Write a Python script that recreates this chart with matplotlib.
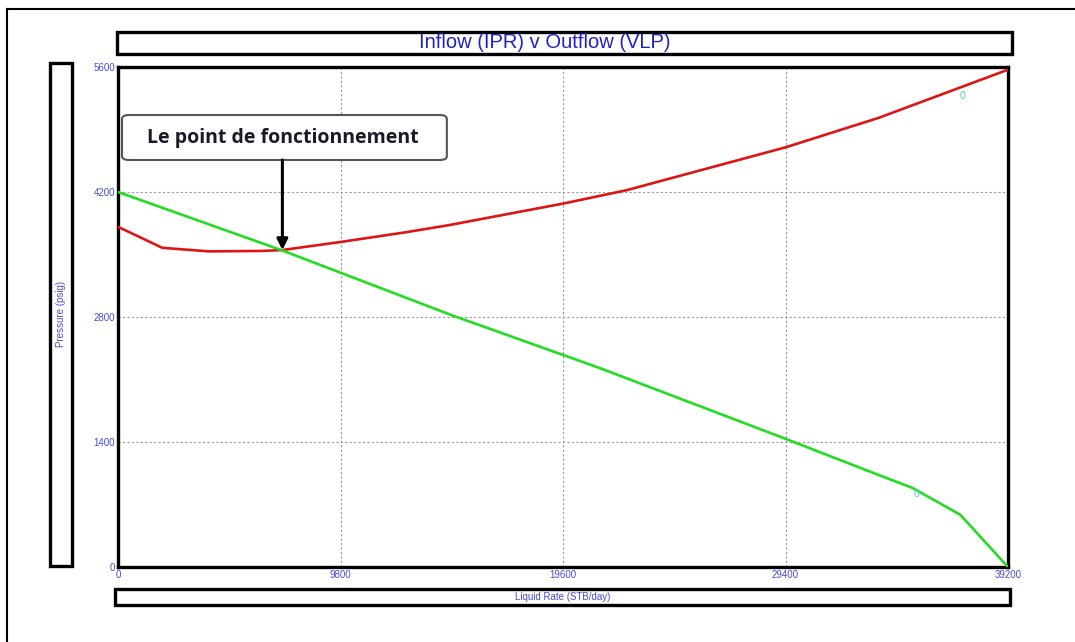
import matplotlib.pyplot as plt
from matplotlib.patches import Rectangle, FancyBboxPatch
from matplotlib.lines import Line2D

# values: liquid rate (STB/day) vs pressure (psig)
vlp_rate = [0, 1950, 4000, 6350, 7240, 9800, 12700, 14600, 19600, 22400, 29400, 33500, 39200]
vlp_pressure = [3810, 3575, 3535, 3540, 3550, 3640, 3750, 3830, 4070, 4220, 4700, 5030, 5570]

ipr_rate = [0, 7240, 14700, 21200, 29400, 33000, 35000, 37100, 39200]
ipr_pressure = [4200, 3545, 2820, 2230, 1436, 1080, 885, 585, 0]

x_ticks = [0, 9800, 19600, 29400, 39200]
y_ticks = [0, 1400, 2800, 4200, 5600]

op_rate, op_pressure = 7240, 3550  # operating point

plt.rcParams['font.family'] = ['Liberation Sans Narrow', 'Liberation Sans', 'DejaVu Sans']

W, H = 1075, 642
fig = plt.figure(figsize=(W / 100, H / 100), dpi=100)


def fbox(x0, y0, x1, y1):
    # pixel box (top-left origin) -> figure fraction rect
    return (x0 / W, 1 - y1 / H, (x1 - x0) / W, (y1 - y0) / H)


ax = fig.add_axes(fbox(118, 67, 1008, 567))

ax.plot(vlp_rate, vlp_pressure, color="#dd1515", lw=1.9, zorder=3)
ax.plot(ipr_rate, ipr_pressure, color="#22dd22", lw=1.9, zorder=3)

ax.set_xlim(0, 39200)
ax.set_ylim(0, 5600)
ax.set_xticks(x_ticks)
ax.set_yticks(y_ticks)
ax.tick_params(length=0, labelsize=7, labelcolor="#4a4ad8", pad=2)
ax.grid(True, color="#999999", lw=0.8, linestyle=(0, (2, 2)))
for s in ax.spines.values():
    s.set_linewidth(2.4)
    s.set_color("black")

# small "0" markers near the curve ends
ax.text(37200, 5280, "0", color="#55cccc", fontsize=7.5, ha="center", va="center")
ax.text(35150, 820, "0", color="#55cccc", fontsize=7.5, ha="center", va="center")

# annotation box + arrow to the operating point
ax.add_patch(FancyBboxPatch((0.0045, 0.814), 0.365, 0.09,
                            boxstyle="round,pad=0,rounding_size=0.008",
                            transform=ax.transAxes, facecolor="white",
                            edgecolor="#555555", lw=1.5, zorder=5))
ax.text(0.1854, 0.859, "Le point de fonctionnement", transform=ax.transAxes,
        family=["Open Sans", "DejaVu Sans"], fontweight="bold", fontsize=14,
        color="#1a1a2a", ha="center", va="center", zorder=6)
ax.annotate("", xy=(op_rate, op_pressure), xytext=(op_rate, 0.814),
            textcoords=("data", "axes fraction"),
            arrowprops=dict(arrowstyle="-|>", color="black", lw=2.2,
                            mutation_scale=16, shrinkA=0, shrinkB=0), zorder=6)

# boxed title and axis labels
boxes = [(117, 32, 1012, 54), (50, 63, 72, 566), (115, 589, 1010, 605)]
for b in boxes:
    fig.add_artist(Rectangle(fbox(*b)[:2], *fbox(*b)[2:], transform=fig.transFigure,
                             fill=False, edgecolor="black", lw=2.4))

fig.text(545 / W, 1 - 43 / H, "Inflow (IPR) v Outflow (VLP)",
         color="#2020c8", fontsize=14.5, ha="center", va="center")
fig.text(61 / W, 1 - 314 / H, "Pressure (psig)", color="#4a4ad8", fontsize=7,
         rotation=90, ha="center", va="center")
fig.text(563 / W, 1 - 597 / H, "Liquid Rate (STB/day)", color="#4a4ad8", fontsize=7,
         ha="center", va="center")

# outer frame (left and top edges)
fig.add_artist(Line2D([7 / W, 7 / W], [0, 1 - 9 / H], color="black", lw=1.5,
                      transform=fig.transFigure))
fig.add_artist(Line2D([7 / W, 1], [1 - 9 / H, 1 - 9 / H], color="black", lw=1.5,
                      transform=fig.transFigure))

fig.savefig("out.png", dpi=100)
